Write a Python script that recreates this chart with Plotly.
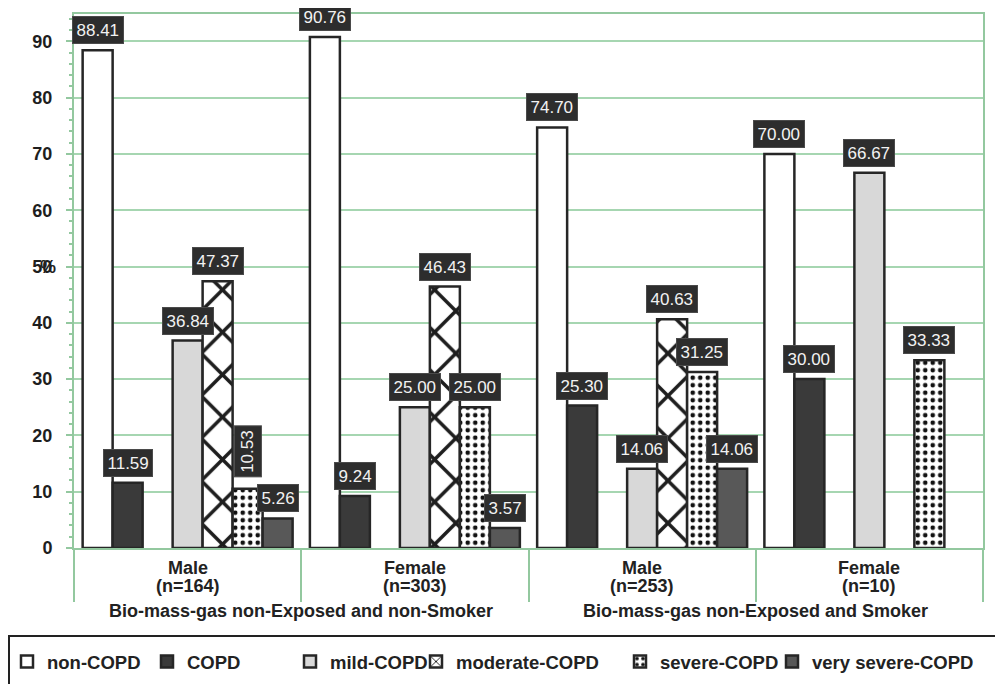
import plotly.graph_objects as go

# ---------------- data ----------------
categories = ["Male", "Female", "Male", "Female"]
sample_sizes = ["(n=164)", "(n=303)", "(n=253)", "(n=10)"]
exposure_groups = ["Bio-mass-gas non-Exposed and non-Smoker",
                   "Bio-mass-gas non-Exposed and Smoker"]

series_names = ["non-COPD", "COPD", "mild-COPD", "moderate-COPD",
                "severe-COPD", "very severe-COPD"]
non_copd = [88.41, 90.76, 74.70, 70.00]
copd = [11.59, 9.24, 25.30, 30.00]
mild_copd = [36.84, 25.00, 14.06, 66.67]
moderate_copd = [47.37, 46.43, 40.63, None]
severe_copd = [10.53, 25.00, 31.25, 33.33]
very_severe_copd = [5.26, 3.57, 14.06, None]
y_ticks = [0, 10, 20, 30, 40, 50, 60, 70, 80, 90]

# ---------------- styles ----------------
series_values = [non_copd, copd, mild_copd, moderate_copd, severe_copd, very_severe_copd]
slots = [0, 1, 3, 4, 5, 6]          # slot 2 is an empty slot in the original chart
n_slots = 7
slot_w = 0.132
fills = ["#ffffff", "#3a3a3a", "#d8d8d8", "#ffffff", "#ffffff", "#585858"]
patterns = [None, None, None,
            dict(shape="x", size=30, solidity=0.22, fgcolor="#1e1e1e", fgopacity=1,
                 bgcolor="#ffffff", fillmode="overlay"),
            dict(shape=".", size=7.5, solidity=0.3, fgcolor="#111111", fgopacity=1,
                 bgcolor="#ffffff", fillmode="overlay"),
            None]
legend_text_x = [47, 187, 330, 456, 660, 812]   # screen pixel positions of legend texts

# page body has an 8px margin, so the figure is drawn at (8, 8)
OFF = 8
W, H = 1003 - OFF, 684 - OFF
ML, MT = 74 - OFF, 14 - OFF
MR, MB = W - (983 - OFF), H - (548 - OFF)
PW, PH = W - ML - MR, H - MT - MB
GREEN = "#a6d6b1"
GREEN_AX = "#93c89f"
FONT = "Liberation Sans, Arial, sans-serif"

def px_to_paper_x(px):
    return (px - OFF - ML) / PW

def px_to_paper_y(py):
    return (H - MB - (py - OFF)) / PH

x_idx = list(range(len(categories)))

fig = go.Figure()
for i, (name, vals) in enumerate(zip(series_names, series_values)):
    marker = dict(color=fills[i], line=dict(color="#262626", width=2.5))
    if patterns[i] is not None:
        marker["pattern"] = patterns[i]
    fig.add_trace(go.Bar(
        x=x_idx, y=vals, name=name,
        width=slot_w, offset=(slots[i] - n_slots / 2) * slot_w,
        marker=marker,
        legend="legend" if i == 0 else f"legend{i + 1}",
        hoverinfo="x+y+name",
    ))

# value labels (dark boxes)
rotated = {(4, 0)}
annotations = []
for i, vals in enumerate(series_values):
    for g, v in enumerate(vals):
        if v is None:
            continue
        rot = (i, g) in rotated
        annotations.append(dict(
            x=g + (slots[i] - (n_slots - 1) / 2) * slot_w, y=v,
            xref="x", yref="y", text=f"{v:.2f}", showarrow=False,
            xanchor="center", yanchor="bottom", yshift=11 if rot else 6,
            textangle=-90 if rot else 0,
            font=dict(family=FONT, size=17, color="#f2f2f2"),
            bgcolor="#2d2d2d", bordercolor="#4a4a4a", borderwidth=1, borderpad=3.5,
        ))

# category labels
for g, (c, n) in enumerate(zip(categories, sample_sizes)):
    annotations.append(dict(x=g, y=0, xref="x", yref="paper", text=c, showarrow=False,
                            yanchor="top", yshift=-8,
                            font=dict(family=FONT, size=18, color="#222222", weight="bold")))
    annotations.append(dict(x=g, y=0, xref="x", yref="paper", text=n, showarrow=False,
                            yanchor="top", yshift=-26,
                            font=dict(family=FONT, size=18, color="#222222", weight="bold")))
for k, eg in enumerate(exposure_groups):
    annotations.append(dict(x=2 * k + 0.5, y=0, xref="x", yref="paper", text=eg, showarrow=False,
                            yanchor="top", yshift=-51,
                            font=dict(family=FONT, size=18, color="#222222", weight="bold")))

# y-axis title "%" (overlapping 50 as in the original)
annotations.append(dict(x=0, y=50, xref="paper", yref="y", text="%", showarrow=False,
                        xanchor="right", yanchor="middle", xshift=-16,
                        font=dict(family=FONT, size=18, color="#222222", weight="bold")))

layout_legends = {}
for i in range(len(series_names)):
    key = "legend" if i == 0 else f"legend{i + 1}"
    layout_legends[key] = dict(
        x=px_to_paper_x(legend_text_x[i] - 40), xanchor="left",
        y=px_to_paper_y(662), yanchor="middle",
        orientation="h", bgcolor="rgba(0,0,0,0)", borderwidth=0,
        font=dict(family=FONT, size=18.5, color="#222222", weight="bold"),
        itemwidth=30,
    )

fig.update_layout(
    width=W, height=H,
    margin=dict(l=ML, r=MR, t=MT, b=MB, autoexpand=False),
    paper_bgcolor="white", plot_bgcolor="white",
    barmode="overlay",
    showlegend=True,
    annotations=annotations,
    shapes=[dict(type="rect", xref="paper", yref="paper",
                 x0=px_to_paper_x(9), x1=px_to_paper_x(998),
                 y0=px_to_paper_y(636), y1=px_to_paper_y(700),
                 line=dict(color="#222222", width=2), fillcolor="rgba(0,0,0,0)", layer="above")],
    **layout_legends,
)

fig.update_xaxes(
    range=[-0.5, len(categories) - 0.5], type="linear",
    showgrid=False, zeroline=False,
    showline=True, linecolor=GREEN_AX, linewidth=2, mirror=True,
    tickvals=[g - 0.5 for g in range(len(categories) + 1)],
    ticktext=[""] * (len(categories) + 1),
    ticks="outside", ticklen=52, tickwidth=2, tickcolor=GREEN_AX,
)
fig.update_yaxes(
    range=[0, 94.85],
    tickvals=y_ticks, ticktext=[str(t) for t in y_ticks],
    showgrid=True, gridcolor=GREEN, gridwidth=2,
    zeroline=False,
    showline=True, linecolor=GREEN_AX, linewidth=2, mirror=True,
    ticks="outside", ticklen=6, tickwidth=2, tickcolor=GREEN_AX,
    ticklabelstandoff=10,
    tickfont=dict(family=FONT, size=18, color="#1e1e1e", weight="bold"),
    minor=dict(dtick=2, ticks="outside", ticklen=3, tickcolor=GREEN_AX, showgrid=False),
)

fig.write_html("out.html")
